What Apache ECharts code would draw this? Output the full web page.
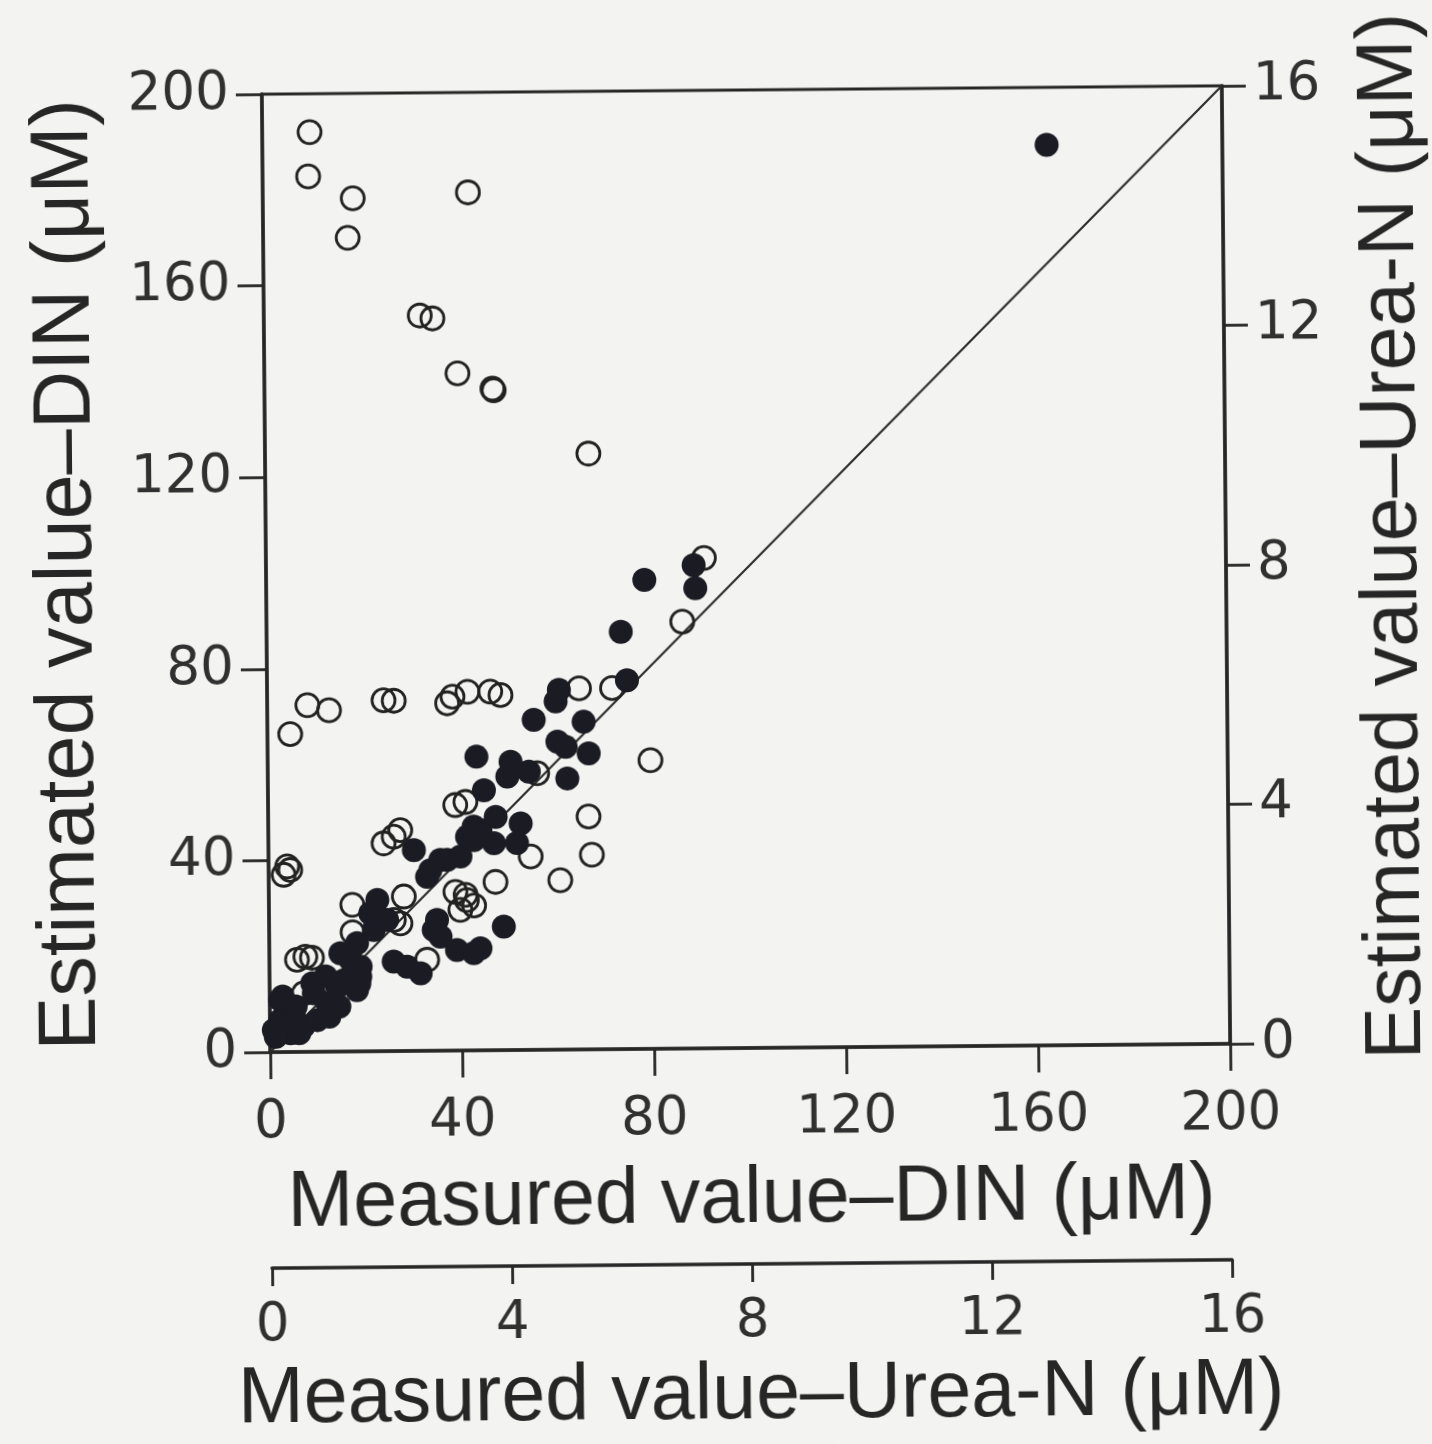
<!DOCTYPE html>
<html>
<head>
<meta charset="utf-8">
<title>Estimated vs measured DIN and Urea-N</title>
<script src="https://cdn.jsdelivr.net/npm/echarts@6/dist/echarts.min.js"></script>
<style>
  html, body { margin: 0; padding: 0; background: #f3f3f1; }
  #chart {
    width: 1432px; height: 1444px;
    transform: rotate(-0.5deg);
    transform-origin: 745px 569px;
  }
</style>
</head>
<body>
<div id="chart"></div>
<script>
// Axis scales (μM)
const dinAxis  = { min: 0, max: 200, step: 40 };
const ureaAxis = { min: 0, max: 16,  step: 4 };

// DIN: measured vs estimated (filled circles)
const dinMeasured = [
  163.4, 89.1, 89.4, 78.8, 73.8, 75.0, 60.8, 60.1, 55.5, 65.9,
  60.4, 62.1, 66.9, 43.5, 50.6, 54.4, 49.9, 62.4, 45.0, 47.4,
  52.6, 42.8, 51.8, 43.5, 37.2, 40.0, 30.3, 35.8, 33.0, 33.7,
  22.6, 21.1, 24.6, 21.8, 18.3, 14.8, 16.9, 18.9, 15.5, 25.9,
  28.7, 31.5, 35.0, 34.3, 35.7, 39.1, 42.6, 44.0, 48.9, 44.2,
  41.4, 47.0, 42.8, 2.2, 2.2, 4.3, 7.0, 9.9, 12.0, 9.2,
  0.8, 5.0, 14.1, 18.2, 19.0, 11.7, 8.9, 2.7, 3.3, 6.1,
  12.4, 14.5, 5.4, 1.2, 18.7
];
const dinEstimated = [
  188.0, 100.9, 96.1, 97.9, 87.1, 77.0, 75.1, 72.7, 68.9, 68.4,
  64.3, 63.2, 61.8, 61.3, 60.2, 58.1, 57.1, 56.6, 54.3, 48.7,
  47.3, 46.7, 43.2, 44.6, 39.8, 40.5, 41.9, 39.8, 36.3, 37.7,
  31.6, 28.8, 27.4, 25.3, 22.6, 20.5, 19.1, 15.6, 14.9, 18.7,
  17.6, 16.2, 27.3, 25.2, 23.8, 21.0, 20.3, 21.3, 25.8, 46.0,
  44.6, 43.2, 43.9, 10.9, 6.7, 3.9, 5.3, 6.6, 10.1, 12.2,
  4.6, 7.4, 13.5, 12.8, 17.7, 15.7, 14.3, 11.6, 5.3, 3.9,
  7.3, 9.4, 9.5, 3.2, 14.2
];

// Urea-N: measured vs estimated (open circles)
const ureaMeasured = [
  0.79, 0.76, 1.50, 1.41, 3.42, 2.60, 2.81, 3.22, 3.82, 3.80,
  5.39, 7.30, 6.93, 5.20, 5.75, 6.38, 0.67, 1.03, 0.38, 1.94,
  2.11, 3.00, 3.09, 3.34, 3.72, 3.89, 4.49, 3.12, 3.29, 5.34,
  5.39, 4.37, 3.78, 4.86, 3.11, 3.28, 2.20, 2.09, 1.92, 0.31,
  0.36, 0.25, 1.39, 2.25, 3.30, 3.42, 2.08, 2.19, 3.19, 1.39,
  0.46, 0.60, 0.71, 2.63, 0.57, 1.07
];
const ureaEstimated = [
  15.36, 14.62, 14.25, 13.59, 14.33, 12.28, 12.23, 11.31, 11.02, 11.05,
  9.95, 8.19, 7.13, 6.03, 6.03, 4.82, 5.79, 5.70, 5.31, 5.86,
  5.85, 5.80, 5.91, 5.99, 5.99, 5.93, 4.62, 4.10, 4.15, 3.89,
  3.25, 3.23, 2.81, 2.83, 2.65, 2.60, 3.69, 3.58, 3.47, 3.10,
  3.04, 2.96, 2.45, 2.58, 2.51, 2.42, 2.19, 2.13, 2.35, 1.99,
  1.54, 1.59, 1.57, 1.52, 0.98, 1.03
];

// 1:1 reference line (DIN units)
const identityLine = [[0, 0], [200, 200]];

const ink = '#262626';
const tickFont = 'DejaVu Sans';
const titleFont = '"Liberation Sans", Arial, Helvetica, sans-serif';

const zip = (xs, ys) => xs.map((x, i) => [x, ys[i]]);

function axisBase(range, opts) {
  return Object.assign({
    type: 'value',
    min: range.min,
    max: range.max,
    interval: range.step,
    splitLine: { show: false },
    axisLine: { show: true, onZero: false, lineStyle: { color: ink, width: 3.5 } },
    axisTick: { show: true, inside: false, length: 26, lineStyle: { color: ink, width: 2.8 } },
    axisLabel: { color: '#303030', fontSize: 53, fontFamily: tickFont },
    nameLocation: 'middle',
    nameTextStyle: { color: ink, fontSize: 79, fontFamily: titleFont }
  }, opts);
}

const chart = echarts.init(document.getElementById('chart'), null, { renderer: 'canvas' });

chart.setOption({
  animation: false,
  backgroundColor: '#f3f3f1',
  grid: {
    left: 266, right: 206, top: 90, bottom: 396,
    outerBoundsMode: 'none',
    containLabel: false,
    show: true, borderColor: ink, borderWidth: 3,
    backgroundColor: 'transparent'
  },
  xAxis: [
    axisBase(dinAxis, {
      position: 'bottom',
      name: 'Measured value–DIN (μM)',
      nameGap: 113,
      axisTick: { show: true, length: 27, lineStyle: { color: ink, width: 2.8 } },
      axisLabel: { color: '#303030', fontSize: 53, fontFamily: tickFont, margin: 45 }
    }),
    axisBase(ureaAxis, {
      position: 'bottom',
      offset: 216,
      name: 'Measured value–Urea-N (μM)',
      nameGap: 93,
      nameTextStyle: { color: ink, fontSize: 79, fontFamily: titleFont, padding: [0, 0, 0, 16] },
      axisTick: { show: true, length: 18, lineStyle: { color: ink, width: 2.8 } },
      axisLabel: { color: '#303030', fontSize: 53, fontFamily: tickFont, margin: 32 }
    })
  ],
  yAxis: [
    axisBase(dinAxis, {
      position: 'left',
      name: 'Estimated value–DIN (μM)',
      nameGap: 157,
      nameTextStyle: { color: ink, fontSize: 81, fontFamily: titleFont },
      axisLabel: { color: '#303030', fontSize: 53, fontFamily: tickFont, margin: 33 }
    }),
    axisBase(ureaAxis, {
      position: 'right',
      name: 'Estimated value–Urea-N (μM)',
      nameGap: 129,
      nameTextStyle: { color: ink, fontSize: 79, fontFamily: titleFont, padding: [0, 0, 0, 54] },
      axisTick: { show: true, length: 24, lineStyle: { color: ink, width: 2.8 } },
      axisLabel: { color: '#303030', fontSize: 53, fontFamily: tickFont, margin: 31 }
    })
  ],
  series: [
    {
      name: '1:1',
      type: 'line',
      xAxisIndex: 0, yAxisIndex: 0,
      data: identityLine,
      showSymbol: false,
      silent: true,
      lineStyle: { color: '#2e2e2e', width: 2.2 },
      z: 1
    },
    {
      name: 'Urea-N',
      type: 'scatter',
      xAxisIndex: 1, yAxisIndex: 1,
      data: zip(ureaMeasured, ureaEstimated),
      symbol: 'circle',
      symbolSize: 23,
      itemStyle: { color: 'rgba(0,0,0,0)', borderColor: '#222', borderWidth: 2.8, opacity: 1 },
      z: 2
    },
    {
      name: 'DIN',
      type: 'scatter',
      xAxisIndex: 0, yAxisIndex: 0,
      data: zip(dinMeasured, dinEstimated),
      symbol: 'circle',
      symbolSize: 24,
      itemStyle: { color: '#1b1b24', borderWidth: 0, opacity: 1 },
      z: 3
    }
  ]
});
</script>
</body>
</html>
